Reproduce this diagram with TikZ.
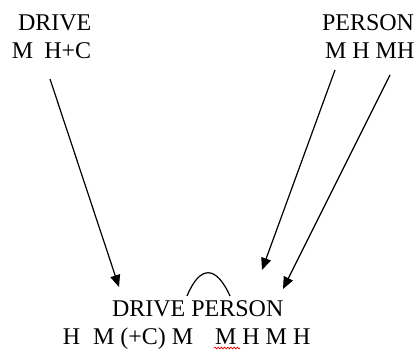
\documentclass[tikz,border=0pt]{standalone}
\usepackage{fontspec}
\setmainfont{Liberation Serif}
\usetikzlibrary{arrows.meta,decorations.pathmorphing}
\tikzset{
  word/.style={anchor=base west, inner sep=0pt, outer sep=0pt, font=\fontsize{24}{28}\selectfont},
  link/.style={line width=1.2pt, -{Triangle[length=12pt,width=10pt]}},
  hump/.style={line width=1.2pt},
  squiggle/.style={red, line width=0.7pt, decorate, decoration={snake, amplitude=0.9pt, segment length=3.2pt}}
}
\begin{document}
\begin{tikzpicture}[x=1pt,y=-1pt]
\useasboundingbox (0,0) rectangle (416,350);
% top left
\node[word] (dl1) at (18,31) {DRIVE};
\node[word] (dl2) at (12,59) {M\hspace{11pt}H+C};
% top right
\node[word] (pl1) at (322,31) {PERSON};
\node[word] (pl2) at (325,59) {M H MH};
% bottom
\node[word] (bl1) at (112,317) {DRIVE PERSON};
\node[word] (bh) at (63,345) {H};
\node[word] (bm) at (93,345) {M (+C) M};
\node[word] (bmh) at (215,345) {M H M H};
% arrow ends
\coordinate (a1s) at (50,79);
\coordinate (a1e) at (119,287);
\coordinate (a2s) at (335,70);
\coordinate (a2e) at (262,270);
\coordinate (a3s) at (390,75);
\coordinate (a3e) at (283,289);
\draw[link] (a1s) -- (a1e);
\draw[link] (a2s) -- (a2e);
\draw[link] (a3s) -- (a3e);
% hump
\coordinate (hl) at (187,296);
\coordinate (hr) at (230,296);
\draw[hump] (hl) .. controls (200,265) and (216,265) .. (hr);
% spell-check squiggle
\coordinate (sq1) at (214,348);
\coordinate (sq2) at (240,348);
\draw[squiggle] (sq1) -- (sq2);
\end{tikzpicture}
\end{document}
